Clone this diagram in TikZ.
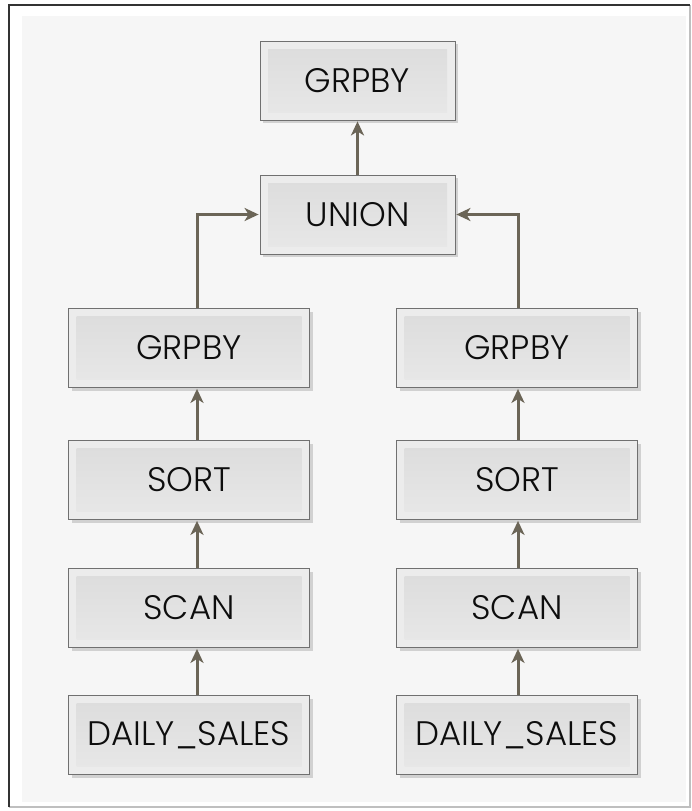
\documentclass[tikz,border=0pt]{standalone}
\usepackage{fontspec}
\usepackage{tikz}
\usetikzlibrary{arrows,arrows.meta,shadows}
\newfontfamily\kastenfont[UprightFont=* Light]{Poppins}
\definecolor{pfeilgrau}{HTML}{6B6557}
\definecolor{kastenrand}{HTML}{707070}
\definecolor{kastenhell}{HTML}{ECECEC}
\definecolor{kastenoben}{HTML}{DCDCDC}
\definecolor{kastenunten}{HTML}{E8E8E8}
\definecolor{hintergrund}{HTML}{F6F6F6}
\tikzset{
    punkt/.style={
           rectangle,
           draw=kastenrand, thick,
           fill=kastenhell,
           minimum width=195pt,
           minimum height=79pt,
           inner sep=0pt,
           text=black!95,
           font=\kastenfont\fontsize{34}{40}\selectfont,
           drop shadow={shadow xshift=3pt, shadow yshift=-3pt,
                        fill=black!18, opacity=1},
           path picture={
             \fill[top color=kastenoben, bottom color=kastenunten]
               ([shift={(8pt,-8pt)}]path picture bounding box.north west)
               rectangle
               ([shift={(-8pt,8pt)}]path picture bounding box.south east);},
           text centered},
    punktbreit/.style={
           punkt,
           minimum width=241pt},
    pfeil/.style={
           -{Stealth[length=14pt,width=13pt,inset=4pt]},
           line width=3pt, draw=pfeilgrau,
           shorten >=1pt}
    }
\begin{document}
\begin{tikzpicture}[x=1pt,y=-1pt]
\useasboundingbox (0,0) rectangle (692,811);
% rahmen
\fill[white] (9,5) rectangle (690,807);
\fill[hintergrund] (22,16) rectangle (686,802);
\draw[black!25, line width=1.5pt] (9,807) -- (690,807) -- (690,5);
\draw[black!80, line width=1.5pt] (9,807) -- (9,5) -- (690,5);
% knoten
\node[punkt] (grpbyoben) at (357.5,80.5) {GRPBY};
\node[punkt] (union) at (357.5,214.5) {UNION};
\node[punktbreit] (grpbyl) at (189,348) {GRPBY};
\node[punktbreit] (sortl) at (189,480) {SORT};
\node[punktbreit] (scanl) at (189,608) {SCAN};
\node[punktbreit] (salesl) at (189,735) {DAILY\_SALES};
\node[punktbreit] (grpbyr) at (517,348) {GRPBY};
\node[punktbreit] (sortr) at (517,480) {SORT};
\node[punktbreit] (scanr) at (517,608) {SCAN};
\node[punktbreit] (salesr) at (517,735) {DAILY\_SALES};
% pfeile
\draw[pfeil] (union.north) -- (grpbyoben.south);
\draw[pfeil] ([xshift=8pt]grpbyl.north) |- (union.west);
\draw[pfeil] ([xshift=1pt]grpbyr.north) |- (union.east);
\draw[pfeil] ([xshift=8pt]sortl.north) -- ([xshift=8pt]grpbyl.south);
\draw[pfeil] ([xshift=8pt]scanl.north) -- ([xshift=8pt]sortl.south);
\draw[pfeil] ([xshift=8pt]salesl.north) -- ([xshift=8pt]scanl.south);
\draw[pfeil] ([xshift=1pt]sortr.north) -- ([xshift=1pt]grpbyr.south);
\draw[pfeil] ([xshift=1pt]scanr.north) -- ([xshift=1pt]sortr.south);
\draw[pfeil] ([xshift=1pt]salesr.north) -- ([xshift=1pt]scanr.south);
\end{tikzpicture}
\end{document}
